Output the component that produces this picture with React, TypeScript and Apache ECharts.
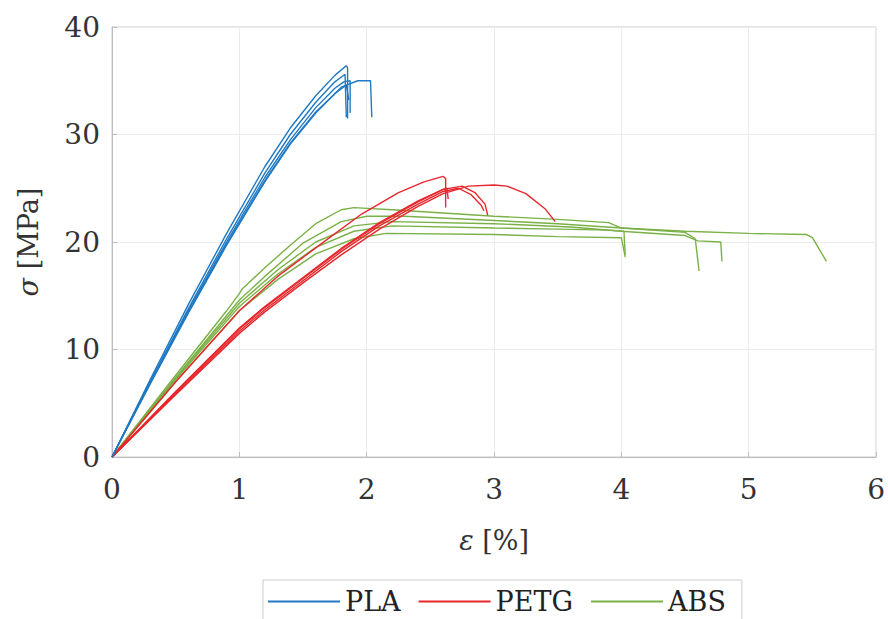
import React, { useEffect, useRef } from "react";
import * as echarts from "echarts";

// strain [%], stress [MPa]
const PLA_1 = [[0,0],[0.3,7.2],[0.6,14.2],[0.9,20.8],[1.2,27.0],[1.4,30.6],[1.6,33.6],[1.75,35.5],[1.84,36.4],[1.85,36.2],[1.85,31.5]];
const PLA_2 = [[0,0],[0.3,7.0],[0.6,13.8],[0.9,20.3],[1.2,26.4],[1.4,30.0],[1.6,33.0],[1.75,34.9],[1.83,35.6],[1.84,31.6]];
const PLA_3 = [[0,0],[0.3,6.9],[0.6,13.6],[0.9,20.0],[1.2,26.0],[1.4,29.5],[1.6,32.5],[1.75,34.3],[1.82,34.9],[1.87,35.0],[1.87,32.0]];
const PLA_4 = [[0,0],[0.3,6.8],[0.6,13.4],[0.9,19.7],[1.2,25.6],[1.4,29.1],[1.6,32.0],[1.8,34.4],[1.93,35.0],[2.03,35.0],[2.04,31.6]];
const PLA_5 = [[0,0],[0.3,6.9],[0.6,13.5],[0.9,19.8],[1.2,25.7],[1.4,29.2],[1.6,32.1],[1.75,33.8],[1.84,34.6],[1.86,33.2]];

const PETG_1 = [[0,0],[0.5,7.0],[1.0,13.6],[1.3,16.8],[1.65,19.9],[1.96,22.6],[2.25,24.6],[2.45,25.6],[2.6,26.1],[2.62,25.9],[2.62,23.2]];
const PETG_2 = [[0,0],[0.5,6.1],[1.0,12.0],[1.2,14.0],[1.5,16.7],[1.8,19.4],[2.1,21.8],[2.4,23.8],[2.6,24.9],[2.75,25.2],[2.85,24.6],[2.93,23.5],[2.95,22.5]];
const PETG_3 = [[0,0],[0.5,5.9],[1.0,11.7],[1.2,13.7],[1.5,16.4],[1.8,19.1],[2.1,21.5],[2.4,23.5],[2.6,24.7],[2.72,25.0],[2.82,24.4],[2.9,23.4],[2.92,22.9]];
const PETG_4 = [[0,0],[0.5,5.8],[1.0,11.5],[1.2,13.5],[1.5,16.2],[1.8,18.8],[2.1,21.2],[2.4,23.3],[2.6,24.5],[2.8,25.2],[3.0,25.3],[3.1,25.2],[3.25,24.5],[3.4,23.1],[3.48,21.9]];
const PETG_5 = [[0,0],[0.5,6.0],[1.0,11.9],[1.2,13.9],[1.5,16.6],[1.8,19.3],[2.1,21.7],[2.4,23.7],[2.6,24.9],[2.63,25.0],[2.64,24.0]];

const ABS_1 = [[0,0],[0.5,7.6],[0.9,13.6],[1.0,15.2],[1.02,15.6],[1.2,17.6],[1.4,19.7],[1.6,21.7],[1.8,23.0],[1.9,23.2],[2.2,23.0],[2.6,22.7],[3.0,22.4],[3.5,22.1],[3.9,21.8],[4.0,21.3],[4.5,21.0],[5.0,20.8],[5.45,20.7],[5.5,20.4],[5.61,18.2]];
const ABS_2 = [[0,0],[0.5,7.4],[1.0,14.6],[1.2,16.8],[1.5,19.9],[1.8,21.9],[2.0,22.4],[2.3,22.4],[3.0,22.0],[3.5,21.7],[4.0,21.3],[4.5,20.9],[4.58,20.3],[4.61,17.3]];
const ABS_3 = [[0,0],[0.5,7.3],[1.0,14.3],[1.3,17.4],[1.6,20.0],[1.9,21.5],[2.2,21.9],[3.0,21.7],[3.6,21.4],[4.0,21.0],[4.5,20.6],[4.6,20.1],[4.78,20.0],[4.79,18.2]];
const ABS_4 = [[0,0],[0.5,7.2],[1.0,14.0],[1.3,17.0],[1.6,19.5],[1.9,21.0],[2.2,21.5],[3.0,21.3],[3.5,21.2],[3.9,21.1],[4.02,21.0],[4.03,18.8]];
const ABS_5 = [[0,0],[0.5,7.0],[1.0,13.6],[1.3,16.5],[1.6,18.9],[1.9,20.3],[2.15,20.8],[3.0,20.7],[3.5,20.5],[4.0,20.4],[4.03,18.6]];

const MATERIALS = ["PLA", "PETG", "ABS"];
const COLORS = ["#2079c2", "#e8262b", "#7ab146"];
const CURVES = [
  [PLA_1, PLA_2, PLA_3, PLA_4, PLA_5],
  [PETG_1, PETG_2, PETG_3, PETG_4, PETG_5],
  [ABS_1, ABS_2, ABS_3, ABS_4, ABS_5],
];

const FONT = "DejaVu Serif";

export default function App() {
  const ref = useRef<HTMLDivElement>(null);
  useEffect(() => {
    if (!ref.current) return;
    const chart = echarts.init(ref.current, null, { renderer: "svg" });
    const series: any[] = [];
    MATERIALS.forEach((m, i) => {
      CURVES[i].forEach((d) => {
        series.push({
          name: m,
          type: "line",
          data: d,
          symbol: "none",
          smooth: false,
          color: COLORS[i],
          lineStyle: { width: 1.4, color: COLORS[i] },
          z: 3 - i,
        });
      });
    });
    const nameStyle = {
      fontFamily: FONT,
      fontSize: 27,
      color: "#333",
      rich: { i: { fontFamily: FONT, fontSize: 27, fontStyle: "italic", color: "#333" } },
    };
    chart.setOption({
      animation: false,
      backgroundColor: "#ffffff",
      textStyle: { fontFamily: FONT },
      grid: {
        left: 112,
        right: 8,
        top: 27,
        bottom: 162,
        show: true,
        borderColor: "#c8c8c8",
        borderWidth: 1,
      },
      legend: {
        data: MATERIALS,
        icon: "rect",
        left: 263,
        top: 580,
        padding: [8, 16, 8, 5],
        itemWidth: 72,
        itemHeight: 2,
        itemGap: 18,
        borderColor: "#cccccc",
        borderWidth: 1,
        backgroundColor: "#ffffff",
        textStyle: { fontFamily: FONT, fontSize: 27, color: "#222" },
      },
      xAxis: {
        type: "value",
        min: 0,
        max: 6,
        interval: 1,
        name: "{i|ε} [%]",
        nameLocation: "middle",
        nameGap: 70,
        nameTextStyle: nameStyle,
        axisLine: { show: true, lineStyle: { color: "#bdbdbd", width: 1 } },
        axisTick: { show: true, inside: true, length: 5, lineStyle: { color: "#bdbdbd" } },
        axisLabel: { fontFamily: FONT, fontSize: 28, color: "#333", margin: 18 },
        splitLine: { show: true, lineStyle: { color: "#ececec", width: 1 } },
      },
      yAxis: {
        type: "value",
        min: 0,
        max: 40,
        interval: 10,
        name: "{i|σ} [MPa]",
        nameLocation: "middle",
        nameGap: 70,
        nameRotate: 90,
        nameTextStyle: nameStyle,
        axisLine: { show: true, lineStyle: { color: "#bdbdbd", width: 1 } },
        axisTick: { show: true, inside: true, length: 5, lineStyle: { color: "#bdbdbd" } },
        axisLabel: { fontFamily: FONT, fontSize: 28, color: "#333", margin: 12 },
        splitLine: { show: true, lineStyle: { color: "#ececec", width: 1 } },
      },
      series,
    });
    return () => chart.dispose();
  }, []);
  return (
    <div
      ref={ref}
      style={{ position: "fixed", left: 0, top: 0, width: 888, height: 619, background: "#fff" }}
    />
  );
}
